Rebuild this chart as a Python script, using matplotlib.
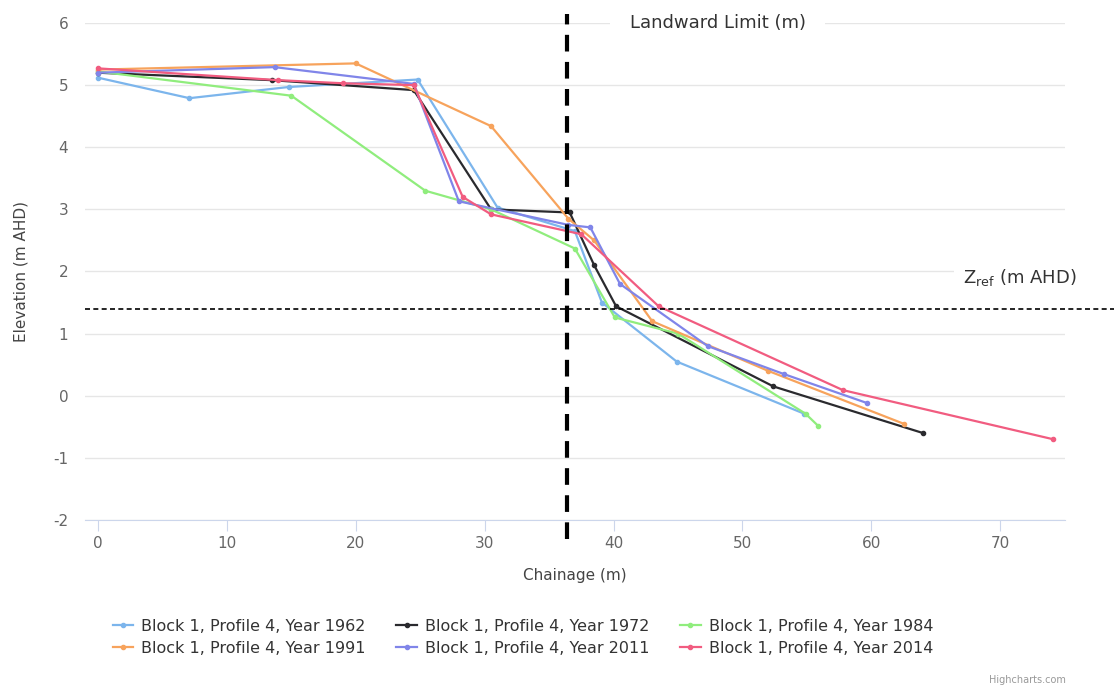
import matplotlib.pyplot as plt

plt.rcParams['axes.unicode_minus'] = False

# profile data (chainage m, elevation m AHD)
x_1962 = [0, 7.1, 14.8, 24.8, 31.0, 37.0, 39.1, 44.9, 54.8]
y_1962 = [5.12, 4.79, 4.97, 5.09, 3.03, 2.65, 1.50, 0.55, -0.29]

x_1972 = [0, 13.5, 24.5, 30.5, 36.6, 38.5, 40.2, 52.4, 64.0]
y_1972 = [5.20, 5.08, 4.92, 3.00, 2.95, 2.10, 1.44, 0.15, -0.60]

x_1984 = [0, 15.0, 25.4, 30.5, 37.0, 40.1, 45.0, 54.9, 55.9]
y_1984 = [5.22, 4.83, 3.30, 3.00, 2.37, 1.26, 1.00, -0.29, -0.49]

x_1991 = [0, 20.0, 30.5, 36.5, 38.5, 43.0, 52.0, 62.5]
y_1991 = [5.25, 5.35, 4.34, 2.85, 2.50, 1.20, 0.40, -0.45]

x_2011 = [0, 13.7, 24.5, 28.0, 36.5, 38.2, 40.5, 47.3, 53.2, 59.7]
y_2011 = [5.20, 5.29, 5.02, 3.13, 2.75, 2.71, 1.80, 0.80, 0.35, -0.12]

x_2014 = [0, 14.0, 19.0, 24.5, 28.3, 30.5, 37.5, 43.5, 57.8, 74.1]
y_2014 = [5.27, 5.08, 5.03, 5.00, 3.20, 2.92, 2.60, 1.44, 0.09, -0.70]

landward_limit = 36.4
z_ref = 1.39

series = [
    ('Block 1, Profile 4, Year 1962', x_1962, y_1962, '#7cb5ec'),
    ('Block 1, Profile 4, Year 1972', x_1972, y_1972, '#2a2a2e'),
    ('Block 1, Profile 4, Year 1984', x_1984, y_1984, '#90ed7d'),
    ('Block 1, Profile 4, Year 1991', x_1991, y_1991, '#f7a35c'),
    ('Block 1, Profile 4, Year 2011', x_2011, y_2011, '#8085e9'),
    ('Block 1, Profile 4, Year 2014', x_2014, y_2014, '#f15c80'),
]

fig = plt.figure(figsize=(11.16, 6.91), dpi=100)
ax = fig.add_axes([0.0762, 0.2475, 0.8778, 0.7192])

handles = []
for name, xs, ys, c in series:
    h, = ax.plot(xs, ys, color=c, lw=1.6, marker='o', ms=3, label=name, zorder=3)
    handles.append(h)

ax.set_xlim(-1, 75)
ax.set_ylim(-2, 6)
ax.set_xticks(range(0, 80, 10))
ax.set_yticks(range(-2, 7))

# highcharts look
ax.grid(axis='y', color='#e6e6e6', lw=1)
ax.set_axisbelow(True)
for s in ['top', 'right', 'left']:
    ax.spines[s].set_visible(False)
ax.spines['bottom'].set_color('#ccd6eb')
ax.tick_params(axis='y', length=0, colors='#666666', labelsize=11, pad=12)
ax.tick_params(axis='x', length=8, color='#ccd6eb', colors='#666666', labelsize=11)
ax.set_xlabel('Chainage (m)', color='#444444', fontsize=11, labelpad=12)
ax.set_ylabel('Elevation (m AHD)', color='#444444', fontsize=11, labelpad=18)

# reference lines, drawn past the plot area like the original
ax.plot([landward_limit, landward_limit], [-2.31, 6.14], color='black', lw=3,
        dashes=(4, 2.5), clip_on=False, zorder=4)
ax.plot([-1, 78.8], [z_ref, z_ref], color='black', lw=1.2, dashes=(3, 2),
        clip_on=False, zorder=4)

ax.text(48.1, 6.0, 'Landward Limit (m)', fontsize=13, color='#333333',
        ha='center', va='center',
        bbox=dict(facecolor='white', edgecolor='none', pad=14), zorder=5)
ax.text(71.5, 1.9, r'Z$_{\mathrm{ref}}$ (m AHD)', fontsize=13, color='#333333',
        ha='center', va='center', clip_on=False,
        bbox=dict(facecolor='white', edgecolor='none', pad=6), zorder=5)

# matplotlib fills legend columns first, so reorder to get row-wise order
order = [0, 3, 1, 4, 2, 5]
fig.legend([handles[i] for i in order], [series[i][0] for i in order],
           loc='lower left', bbox_to_anchor=(0.088, 0.03), ncol=3, frameon=False,
           fontsize=11.5, handlelength=1.3, columnspacing=1.9, labelcolor='#333333',
           handletextpad=0.5, labelspacing=0.45)

fig.text(0.955, 0.012, 'Highcharts.com', fontsize=7, color='#999999', ha='right')

fig.savefig('out.png', dpi=100)
